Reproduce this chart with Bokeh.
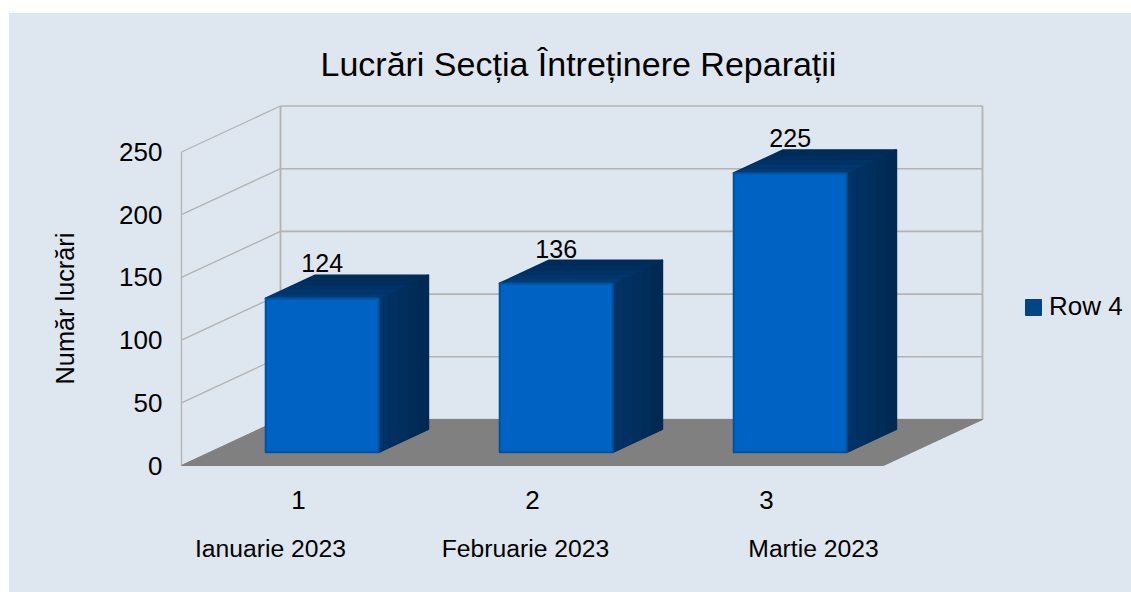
from bokeh.plotting import figure
from bokeh.models import Range1d, FixedTicker, Legend, LegendItem, ColumnDataSource
from bokeh.embed import file_html
from bokeh.resources import INLINE
from bokeh.core.properties import value

TITLE = "Lucrări Secția Întreținere Reparații"
Y_TITLE = "Număr lucrări"
SERIES = "Row 4"
categories = [1, 2, 3]
months = ["Ianuarie 2023", "Februarie 2023", "Martie 2023"]
values = [124, 136, 225]
y_ticks = [0, 50, 100, 150, 200, 250]

PANEL = "#dee6ef"
GRID = "#b3b3b3"
FONT = "Liberation Sans"
PX_X, PX_Y = 234, 1.254   # pixels per category and per value unit

# oblique projection: depth z (0 front, 1 back) shifts a point right and up
DX, DY = 99 / PX_X, 46 / PX_Y
X0, X1 = 0.5, 3.5
def P(x, y, z):
    return x + DX * z, y + DY * z

p = figure(width=1122, height=579, output_backend="svg", toolbar_location=None,
           x_range=Range1d(1 - 289 / PX_X, 1 + 833 / PX_X), y_range=Range1d(-127 / PX_Y, 365 / PX_Y),
           min_border_left=0, min_border_right=0, min_border_top=87, min_border_bottom=0,
           background_fill_color=None, border_fill_color=None, outline_line_color=None)
p.styles = {"background-color": PANEL}
p.margin = (13, 0, 0, 9)
p.grid.visible = False

p.title.text = TITLE
p.title.text_font = FONT
p.title.text_font_size = "34px"
p.title.text_font_style = "normal"
p.title.text_color = "#000000"
p.title.align = "left"
p.title.offset = 311
p.title.standoff = 35

for ax, ticks in ((p.yaxis[0], y_ticks), (p.xaxis[0], categories)):
    ax.ticker = FixedTicker(ticks=ticks)
    ax.axis_line_color = None
    ax.major_tick_line_color = None
    ax.minor_tick_line_color = None
    ax.major_label_text_font = FONT
    ax.major_label_text_font_size = "26px"
    ax.major_label_text_color = "#000000"
p.yaxis[0].fixed_location = X0
p.xaxis[0].fixed_location = 0
p.yaxis[0].major_label_standoff = 13
p.xaxis[0].major_label_standoff = 19

# walls
for t in y_ticks:
    a, b = P(X0, t, 0), P(X0, t, 1)
    c = P(X1, t, 1)
    p.line([a[0], b[0]], [a[1], b[1]], line_color=GRID, line_width=1.3)
    p.line([b[0], c[0]], [b[1], c[1]], line_color=GRID, line_width=1.6)
for x, z in ((X0, 0), (X0, 1), (X1, 1)):
    a, b = P(x, y_ticks[0], z), P(x, y_ticks[-1], z)
    p.line([a[0], b[0]], [a[1], b[1]], line_color=GRID, line_width=1.3 if z == 0 else 1.8)

# floor
fl = [P(X0, 0, 0), P(X1, 0, 0), P(X1, 0, 1), P(X0, 0, 1)]
p.patch([q[0] for q in fl], [q[1] for q in fl], fill_color="#808080", line_color="#808080", line_width=1)

# bars
W = 113 / PX_X / 2
BX = -5 / PX_X
K = 1.24 / PX_Y   # the bars stand a little shorter than the wall scale
Z0, Z1 = 0.29, 0.79
SIDE = ["#003466", "#003162", "#002f5d", "#002c58", "#002a54"]
TOP = ["#003a72", "#00366b", "#003265", "#002f5e", "#002c58"]
for c, val in zip(categories, values):
    l, r = c + BX - W, c + BX + W
    v = val * K
    for pts, col in (([P(r, 0, Z0), P(r, 0, Z1), P(r, v, Z1), P(r, v, Z0)], "#002f5d"),
                     ([P(l, v, Z0), P(r, v, Z0), P(r, v, Z1), P(l, v, Z1)], "#003060")):
        p.patch([q[0] for q in pts], [q[1] for q in pts], fill_color=col,
                line_color=col, line_width=2, line_join="round")
    n = len(SIDE)
    for i in range(n):
        za, zb = Z0 + (Z1 - Z0) * i / n, Z0 + (Z1 - Z0) * (i + 1) / n
        s = [P(r, 0, za), P(r, 0, zb), P(r, v, zb), P(r, v, za)]
        p.patch([q[0] for q in s], [q[1] for q in s], fill_color=SIDE[i], line_color=SIDE[i], line_width=0.5)
        t = [P(l, v, za), P(r, v, za), P(r, v, zb), P(l, v, zb)]
        p.patch([q[0] for q in t], [q[1] for q in t], fill_color=TOP[i], line_color=TOP[i], line_width=0.5)
    f = [P(l, 0, Z0), P(r, 0, Z0), P(r, v, Z0), P(l, v, Z0)]
    p.patch([q[0] for q in f], [q[1] for q in f], fill_color="#0063c4", line_color="#00529f",
            line_width=2, line_join="round")

# value labels
src = ColumnDataSource(dict(x=[P(c + BX, 0, Z0)[0] for c in categories],
                            y=[P(c, v * K, Z1)[1] for c, v in zip(categories, values)],
                            t=[str(v) for v in values]))
p.text("x", "y", "t", source=src, text_font=value(FONT), text_font_size="25px", text_color="#000000",
       text_align="center", text_baseline="bottom", x_offset=0, y_offset=-3)

# month captions under the axis
caps = ColumnDataSource(dict(x=[c + d / PX_X for c, d in zip(categories, (-28, -7, 47))],
                             y=[-83 / PX_Y] * 3, t=months))
p.text("x", "y", "t", source=caps, text_font=value(FONT), text_font_size="24.7px", text_color="#000000",
       text_align="center", text_baseline="middle")

# axis title
p.text([1 - 234 / PX_X], [157 / PX_Y], [Y_TITLE], angle=90, angle_units="deg", text_font=value(FONT),
       text_font_size="25.3px", text_color="#000000", text_align="center", text_baseline="middle")

# legend
key = p.quad(left=[float("nan")], right=[float("nan")], bottom=[float("nan")], top=[float("nan")],
             fill_color="#004586", line_color="#004586")
leg = Legend(items=[LegendItem(label=SERIES, renderers=[key])], location=(1014, 270),
             background_fill_alpha=0, border_line_color=None, glyph_width=20, glyph_height=20,
             label_text_font=FONT, label_text_font_size="26px", label_text_color="#000000",
             padding=0, margin=0, label_standoff=6)
p.add_layout(leg)

open("out.html", "w").write(file_html(p, INLINE))
